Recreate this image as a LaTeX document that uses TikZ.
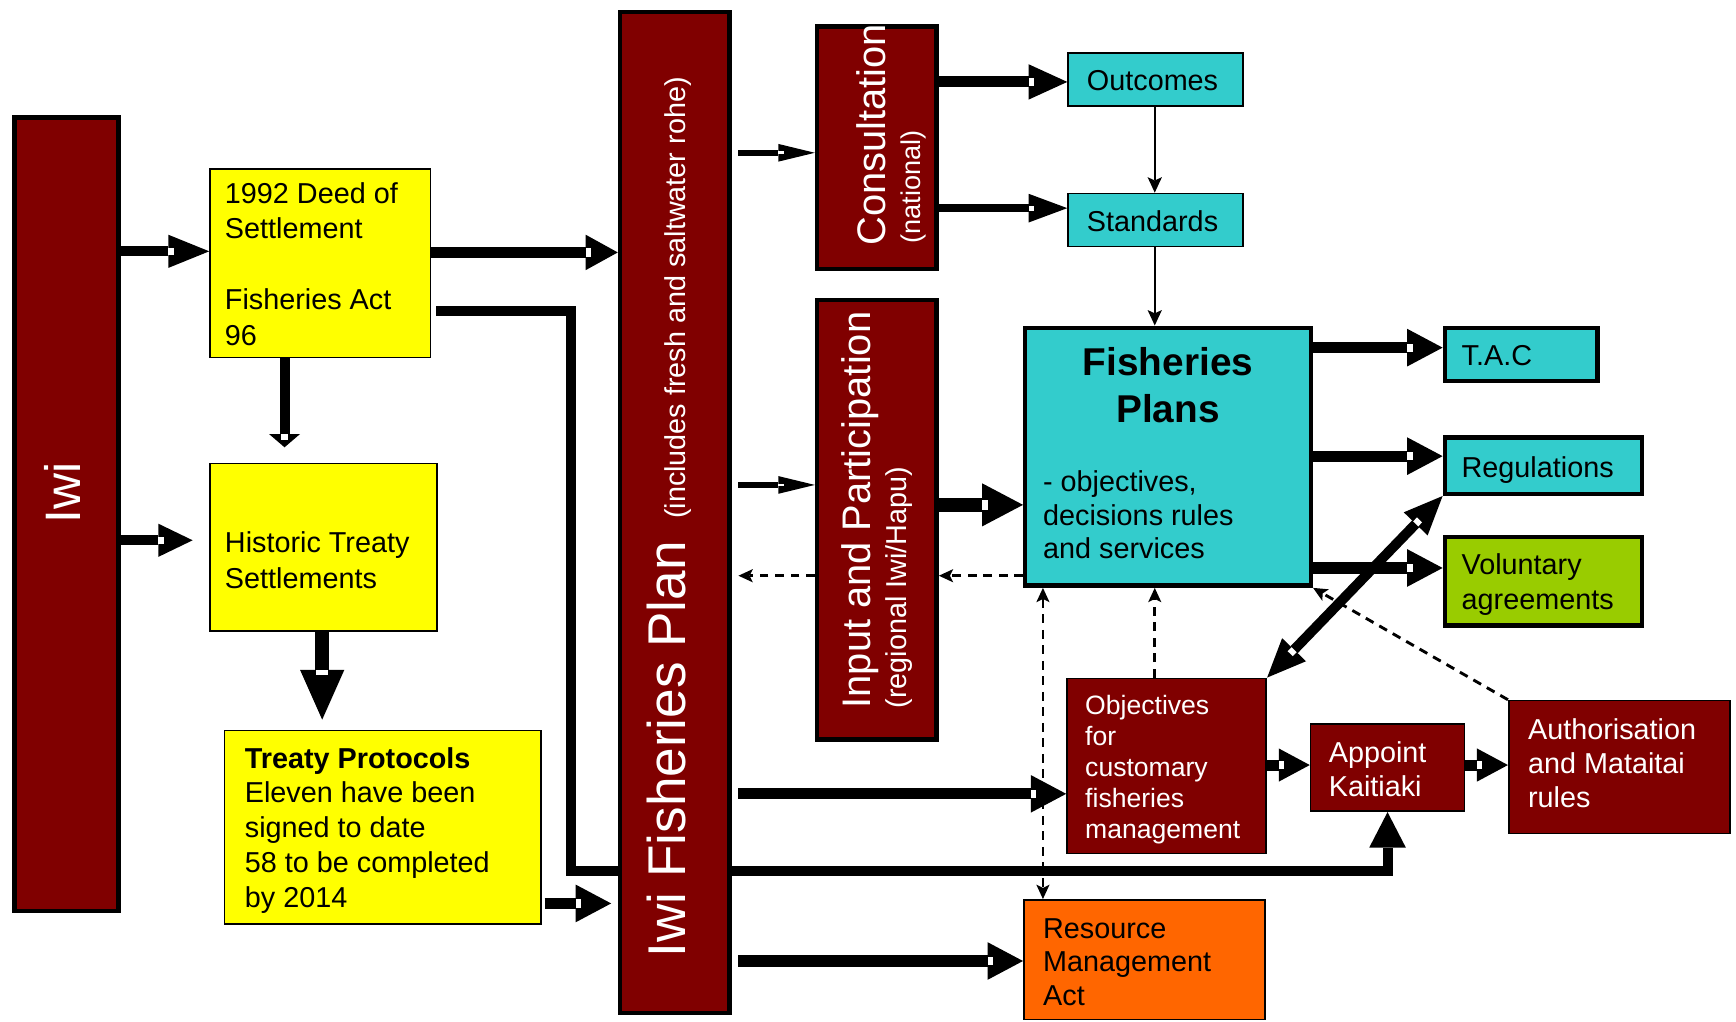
\documentclass[tikz,border=0pt]{standalone}
\usepackage{fontspec}
\setmainfont{Liberation Sans}
\usetikzlibrary{arrows.meta,decorations.markings,backgrounds}
\definecolor{mroon}{HTML}{800000}
\definecolor{tealc}{HTML}{33CCCC}
\definecolor{yelc}{HTML}{FFFF00}
\definecolor{grnc}{HTML}{99CC00}
\definecolor{orgc}{HTML}{FF6600}
\newcommand{\myfs}[2]{\fontsize{#1pt}{#2pt}\selectfont}
\tikzset{
  bx/.style n args={2}{rectangle, inner sep=0pt, anchor=north west, minimum width=#1pt, minimum height=#2pt},
  thk/.style={draw=black, line width=4pt},
  thn/.style={draw=black, line width=1.5pt},
  mbox/.style={fill=mroon},
  tbox/.style={fill=tealc},
  ybox/.style={fill=yelc},
  gbox/.style={fill=grnc},
  obox/.style={fill=orgc},
  txt/.style={inner sep=0pt, align=left, anchor=west, font=\myfs{26}{32}},
  wtxt/.style={txt, text=white},
  rtxt/.style={inner sep=0pt, rotate=90, anchor=base west, text=white},
  fatx/.style n args={3}{line width=#1pt, >={Triangle[length=#2pt,width=#3pt,line width=0pt]}, ->},
  fat/.style n args={3}{fatx={#1}{#2}{#3},
     postaction={decorate, decoration={markings, mark=at position 1 with {\fill[white] ({-#2},{-(#1/2-1.3)}) rectangle ({-#2+5},{#1/2-1.3});}}}},
  fatb/.style n args={3}{line width=#1pt, >={Triangle[length=#2pt,width=#3pt,line width=0pt]}, <->,
     postaction={decorate, decoration={markings,
        mark=at position 0 with {\fill[white] ({#2-5},{-(#1/2-1.3)}) rectangle ({#2},{#1/2-1.3});},
        mark=at position 1 with {\fill[white] ({-#2},{-(#1/2-1.3)}) rectangle ({-#2+5},{#1/2-1.3});}}}},
  thinarr/.style={line width=2pt, >={Stealth[length=14pt,width=13pt,inset=3pt,line width=0pt]}, ->},
  dsh/.style={line width=2.6pt, dash pattern=on 8pt off 6pt, >={Stealth[length=13pt,width=12pt,inset=3pt,line width=0pt]}, ->},
  dshb/.style={line width=2.6pt, dash pattern=on 8pt off 6pt, >={Stealth[length=13pt,width=12pt,inset=3pt,line width=0pt]}, <->},
}
\begin{document}
\begin{tikzpicture}[x=1pt,y=-1pt]
\useasboundingbox (0,0) rectangle (1568,923);
% boxes
\node[bx={94}{717}, thk, mbox] (iwi) at (11,104) {};
\node[bx={199}{170}, thn, ybox] (deed) at (189,152) {};
\node[bx={205}{151}, thn, ybox] (hist) at (189,418) {};
\node[bx={286}{175}, thn, ybox] (treaty) at (202,659) {};
\node[bx={99}{904}, thk, mbox] (ifp) at (558,9) {};
\node[bx={108}{219}, thk, mbox] (cons) at (736,22) {};
\node[bx={108}{397}, thk, mbox] (input) at (736,269) {};
\node[bx={158}{48}, thn, tbox] (outc) at (964,47) {};
\node[bx={158}{48}, thn, tbox] (stand) at (964,174) {};
\node[bx={258}{233}, thk, tbox] (fp) at (924,294) {};
\node[bx={138}{48}, thk, tbox] (tac) at (1303,294) {};
\node[bx={178}{51}, thk, tbox] (reg) at (1303,393) {};
\node[bx={178}{80}, thk, gbox] (vol) at (1303,483) {};
\node[bx={180}{158}, thn, mbox] (obj) at (963,612) {};
\node[bx={139}{79}, thn, mbox] (appoint) at (1183,653) {};
\node[bx={200}{120}, thn, mbox] (auth) at (1362,632) {};
\node[bx={218}{108}, thn, obox] (rma) at (924,812) {};
% texts
\node[rtxt, font=\myfs{45}{50}] (t-iwi) at (73,473) {Iwi};
\node[txt] (t-deed) at (203,238.5) {1992 Deed of\\Settlement\\[32pt]Fisheries Act\\96};
\node[txt] (t-hist) at (203,506) {Historic Treaty\\Settlements};
\node[txt, font=\myfs{26}{31.5}] (t-treaty) at (221,750) {\textbf{Treaty Protocols}\\Eleven have been\\signed to date\\58 to be completed\\by 2014};
\node[rtxt, font=\myfs{48}{56}] (t-ifp) at (619,865) {Iwi Fisheries Plan\hspace{20pt}{\myfs{26}{30}(includes fresh and saltwater rohe)}};
\node[rtxt, font=\myfs{36}{40}] (t-cons) at (800,222) {Consultation};
\node[rtxt, font=\myfs{24.5}{28}] (t-nat) at (831,220) {(national)};
\node[rtxt, font=\myfs{36}{40}] (t-input) at (786,640) {Input and Participation};
\node[rtxt, font=\myfs{26}{30}] (t-rgn) at (819,640) {(regional Iwi/Hapu)};
\node[txt, anchor=center] (t-outc) at (1041,73) {Outcomes};
\node[txt, anchor=center] (t-stand) at (1041,200) {Standards};
\node[inner sep=0pt, align=center, font=\bfseries\myfs{35}{42}] (t-fpt) at (1055,348) {Fisheries\\Plans};
\node[txt, font=\myfs{26}{30}] (t-fpd) at (942,465) {- objectives,\\decisions rules\\and services};
\node[txt] (t-tac) at (1320,321) {T.A.C};
\node[txt] (t-regs) at (1320,424.6) {Regulations};
\node[txt, font=\myfs{26}{31}] (t-vol) at (1320,528) {Voluntary\\agreements};
\node[wtxt, font=\myfs{24}{28}] (t-obj) at (980,695.4) {Objectives\\for\\customary\\fisheries\\management};
\node[wtxt, font=\myfs{26}{31}] (t-app) at (1200,694.5) {Appoint\\Kaitiaki};
\node[wtxt, font=\myfs{26}{31}] (t-auth) at (1380,689.5) {Authorisation\\and Mataitai\\rules};
\node[txt, font=\myfs{26}{30}] (t-rma) at (942,869) {Resource\\Management\\Act};
% free ends
\coordinate (histin) at (174,488);
\coordinate (histtop) at (257,404);
\coordinate (treatyin) at (291,650);
\coordinate (elbowstart) at (394,281);
\coordinate (tpout) at (492,816);
\coordinate (ifpin) at (552,816);
\coordinate (ifpo1) at (667,138);
\coordinate (ifpo2) at (667,438);
\coordinate (ifpdash) at (667,520);
\coordinate (ifpo3) at (667,717);
\coordinate (ifpo4) at (667,868);
% connectors
\begin{scope}[on background layer]
  \draw[fatx={9}{32}{33}] (elbowstart) -| (516,787) -| (appoint.south);
\end{scope}
\draw[fat={9}{37}{30}] (iwi.east |- 0,227) -- (deed.west |- 0,227);
\draw[fat={9}{31}{30}] (iwi.east |- histin) -- (histin);
\draw[fat={10}{29}{32}] (deed.east |- 0,228) -- (ifp.west |- 0,228);
\draw[fat={9}{12}{28}] (deed.south -| histtop) -- (histtop);
\draw[fat={13}{45}{40}] (hist.south -| treatyin) -- (treatyin);
\draw[fat={10}{32}{34}] (tpout) -- (ifpin);
\draw[fat={5}{33}{16}] (ifpo1) -- (cons.west |- ifpo1);
\draw[fat={5}{33}{16}] (ifpo2) -- (input.west |- ifpo2);
\draw[fat={10}{35}{32}] (cons.east |- 0,74) -- (outc.west |- 0,74);
\draw[fat={7}{35}{26}] (cons.east |- 0,188) -- (stand.west |- 0,188);
\draw[thinarr] (outc.south -| 1043,0) -- (stand.north -| 1043,0);
\draw[thinarr] (stand.south -| 1043,0) -- (fp.north -| 1043,0);
\draw[fat={12}{37}{39}] (input.east |- 0,456) -- (fp.west |- 0,456);
\draw[dsh] (fp.west |- 0,520) -- (input.east |- 0,520);
\draw[dsh] (input.west |- ifpdash) -- (ifpdash);
\draw[fat={10}{32}{34}] (fp.east |- 0,314) -- (tac.west |- 0,314);
\draw[fat={10}{32}{34}] (fp.east |- 0,412) -- (reg.west |- 0,412);
\draw[fat={10}{32}{34}] (fp.east |- 0,513) -- (vol.west |- 0,513);
\draw[dsh] (auth.north west) -- (fp.south east);
\draw[dsh] (obj.north -| 1043,0) -- (fp.south -| 1043,0);
\draw[dshb] (fp.south -| 942,0) -- (rma.north -| 942,0);
\draw[fatb={9}{35}{30}] (reg.south west) -- (obj.north east);
\draw[fat={10}{32}{34}] (ifpo3) -- (obj.west |- ifpo3);
\draw[fat={10}{28}{30}] (obj.east |- 0,691) -- (appoint.west |- 0,691);
\draw[fat={10}{28}{30}] (appoint.east |- 0,691) -- (auth.west |- 0,691);
\draw[fat={10}{32}{34}] (ifpo4) -- (rma.west |- ifpo4);
\end{tikzpicture}
\end{document}
